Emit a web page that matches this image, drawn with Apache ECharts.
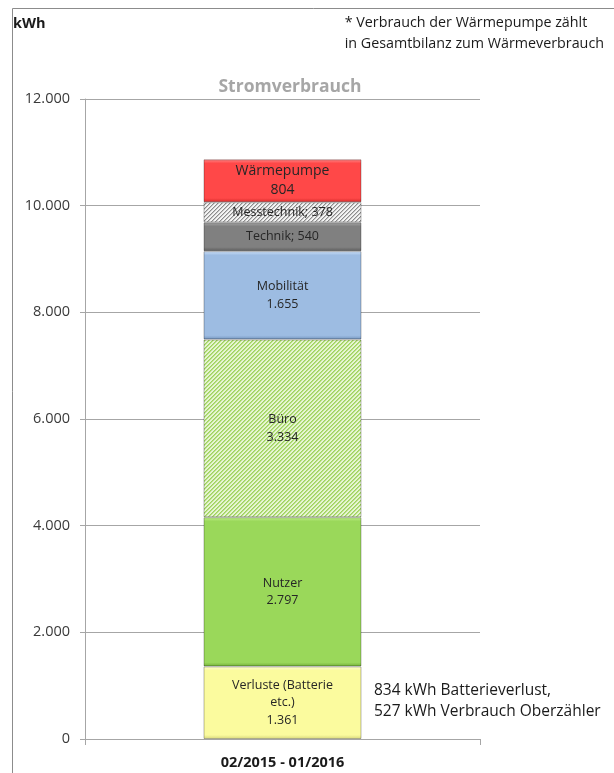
<!DOCTYPE html>
<html>
<head>
<meta charset="utf-8">
<script src="https://cdn.jsdelivr.net/npm/echarts@6/dist/echarts.min.js"></script>
<style>
  html, body { margin: 0; padding: 0; background: #ffffff; }
  #chart { width: 614px; height: 773px; }
</style>
</head>
<body>
<div id="chart"></div>
<script>
// ---- data ----
const categories = ['02/2015 - 01/2016'];
const seriesNames = ['Verluste (Batterie etc.)', 'Nutzer', 'Büro', 'Mobilität', 'Technik', 'Messtechnik', 'Wärmepumpe'];
const seriesValues = [1361, 2797, 3334, 1655, 540, 378, 804];
const yTickValues = [0, 2000, 4000, 6000, 8000, 10000, 12000];
const titleText = 'Stromverbrauch';
const unitText = 'kWh';
const noteLines = ['* Verbrauch der Wärmepumpe zählt', 'in Gesamtbilanz zum Wärmeverbrauch'];
const annotationLines = ['834 kWh Batterieverlust,', '527 kWh Verbrauch Oberzähler'];

// ---- helpers ----
function fmtDE(v) {
  return String(Math.round(v)).replace(/\B(?=(\d{3})+(?!\d))/g, '.');
}
function makePattern(bg, fg, fg2) {
  const c = document.createElement('canvas');
  c.width = 4; c.height = 4;
  const ctx = c.getContext('2d');
  ctx.fillStyle = bg; ctx.fillRect(0, 0, 4, 4);
  for (let x = 0; x < 4; x++) {
    for (let y = 0; y < 4; y++) {
      const k = (x + y) % 4;
      if (k === 0) { ctx.fillStyle = fg; ctx.fillRect(x, y, 1, 1); }
      else if (k === 1 && fg2) { ctx.fillStyle = fg2; ctx.fillRect(x, y, 1, 1); }
    }
  }
  return { image: c, repeat: 'repeat' };
}
function bevel(base, light, dark, value) {
  const px = value * 640 / 12000;
  const f = Math.min(0.3, 4 / px);
  return {
    type: 'linear', x: 0, y: 0, x2: 0, y2: 1,
    colorStops: [
      { offset: 0, color: light },
      { offset: f, color: base },
      { offset: 1 - f, color: base },
      { offset: 1, color: dark }
    ]
  };
}

const fills = [
  bevel('#fbfb9e', '#ffffd8', '#d6d67a', seriesValues[0]),
  bevel('#9ad85a', '#c4f08e', '#74b038', seriesValues[1]),
  makePattern('#e6f5d2', '#9fd25e', '#b8e084'),
  bevel('#9dbce2', '#cfe2fa', '#7596bf', seriesValues[3]),
  bevel('#808080', '#a8a8a8', '#5c5c5c', seriesValues[4]),
  makePattern('#f4f4f4', '#8c8c8c', '#c8c8c8'),
  bevel('#ff4848', '#ff8a8a', '#d42a2a', seriesValues[6])
];

const labelFormats = [
  v => 'Verluste (Batterie\netc.)\n' + fmtDE(v),
  v => 'Nutzer\n' + fmtDE(v),
  v => 'Büro\n' + fmtDE(v),
  v => 'Mobilität\n' + fmtDE(v),
  v => 'Technik; ' + fmtDE(v),
  v => 'Messtechnik; ' + fmtDE(v),
  v => 'Wärmepumpe\n' + fmtDE(v)
];
const labelSizes = [12.5, 12.5, 12.5, 12.5, 12.5, 12.5, 14];

const series = seriesNames.map((name, i) => ({
  name: name,
  type: 'bar',
  stack: 'total',
  barWidth: '40%',
  data: [seriesValues[i]],
  itemStyle: {
    color: fills[i],
    borderColor: 'rgba(0,0,0,0.28)',
    borderWidth: 1
  },
  label: {
    show: true,
    position: 'inside',
    color: '#262626',
    fontFamily: 'Open Sans',
    fontSize: labelSizes[i],
    lineHeight: i === 6 ? 18.5 : 17.5,
    formatter: p => labelFormats[i](p.value)
  },
  emphasis: { disabled: true },
  silent: true
}));

const chart = echarts.init(document.getElementById('chart'), null, { renderer: 'canvas' });
chart.setOption({
  animation: false,
  backgroundColor: '#ffffff',
  grid: { left: 85, right: 134, top: 99, bottom: 34, containLabel: false },
  xAxis: {
    type: 'category',
    data: categories,
    axisLine: { show: true, lineStyle: { color: '#a6a6a6', width: 1 } },
    axisTick: { show: true, length: 6, alignWithLabel: false, lineStyle: { color: '#a6a6a6' } },
    axisLabel: {
      margin: 16,
      color: '#1a1a1a',
      fontFamily: 'Open Sans',
      fontWeight: 'bold',
      fontSize: 14.5
    }
  },
  yAxis: {
    type: 'value',
    min: yTickValues[0],
    max: yTickValues[yTickValues.length - 1],
    interval: yTickValues[1] - yTickValues[0],
    axisLine: { show: true, lineStyle: { color: '#a6a6a6', width: 1 } },
    axisTick: { show: true, length: 5, inside: false, lineStyle: { color: '#a6a6a6' } },
    splitLine: { show: true, lineStyle: { color: '#a6a6a6', width: 1 } },
    axisLabel: {
      margin: 15,
      color: '#3a3a3a',
      fontFamily: 'Open Sans',
      fontSize: 14.5,
      formatter: v => fmtDE(v)
    }
  },
  series: series,
  graphic: [
    {
      type: 'rect', silent: true, z: -1,
      shape: { x: 12.5, y: 8.5, width: 700, height: 900 },
      style: { fill: null, stroke: '#8c8c8c', lineWidth: 1 }
    },
    {
      type: 'text', left: 13, top: 16,
      style: { text: unitText, fontFamily: 'Open Sans', fontWeight: 'bold', fontSize: 14.5, fill: '#1a1a1a' }
    },
    {
      type: 'text', right: 10, top: 12,
      style: {
        text: noteLines.join('\n'), align: 'right', fontFamily: 'Open Sans', fontSize: 14.3,
        lineHeight: 21, fill: '#1a1a1a'
      }
    },
    {
      type: 'text', x: 290, y: 87,
      style: {
        text: titleText, align: 'center', verticalAlign: 'middle', fontFamily: 'Open Sans',
        fontWeight: 'bold', fontSize: 17.5, fill: '#a6a6a6'
      }
    },
    {
      type: 'text', x: 374, y: 680,
      style: {
        text: annotationLines.join('\n'), align: 'left', fontFamily: 'Open Sans', fontSize: 15.5,
        lineHeight: 21, fill: '#1a1a1a'
      }
    }
  ]
});
</script>
</body>
</html>
